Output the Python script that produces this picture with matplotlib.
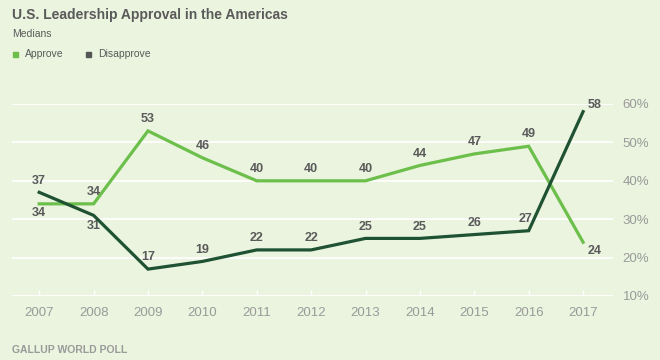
import matplotlib
matplotlib.use("Agg")
import matplotlib.pyplot as plt

years = [2007, 2008, 2009, 2010, 2011, 2012, 2013, 2014, 2015, 2016, 2017]
approve = [34, 34, 53, 46, 40, 40, 40, 44, 47, 49, 24]
disapprove = [37, 31, 17, 19, 22, 22, 25, 25, 26, 27, 58]
y_ticks = [10, 20, 30, 40, 50, 60]
y_tick_labels = ["10%", "20%", "30%", "40%", "50%", "60%"]

BG = "#eaf4de"
C_APP = "#6cbf4b"
C_DIS = "#1f5232"
TXT = "#5a5a5a"
GREY = "#9a9a9a"

plt.rcParams['font.family'] = ['Liberation Sans', 'DejaVu Sans']

fig = plt.figure(figsize=(6.6, 3.6), dpi=100, facecolor=BG)
W, H = 660, 360
ax = fig.add_axes([12 / W, 1 - 296 / H, (613 - 12) / W, (296 - 104) / H])
ax.set_facecolor(BG)
ax.set_xlim(2006.5, 2017.55)
ax.set_ylim(10, 60)

for t in y_ticks:
    ax.axhline(t, color="white", lw=1.3, zorder=0)
for s in ax.spines.values():
    s.set_visible(False)

ax.plot(years, approve, color=C_APP, lw=2.3, zorder=3, solid_joinstyle="miter")
ax.plot(years, disapprove, color=C_DIS, lw=2.3, zorder=4, solid_joinstyle="miter")

ax.set_xticks(years)
ax.set_xticklabels([str(y) for y in years])
ax.tick_params(axis="x", direction="in", length=4, width=1, color="white",
               labelcolor=GREY, labelsize=9.5, pad=8)
ax.yaxis.tick_right()
ax.set_yticks(y_ticks)
ax.set_yticklabels(y_tick_labels)
ax.tick_params(axis="y", length=0, labelcolor=GREY, labelsize=9.5, pad=7)

# value labels
for i, (x, a, d) in enumerate(zip(years, approve, disapprove)):
    if i == len(years) - 1:
        ax.annotate(str(a), (x, a), xytext=(8, -6), textcoords="offset points",
                    ha="center", va="center", fontsize=9, fontweight="bold", color=TXT)
        ax.annotate(str(d), (x, d), xytext=(8, 4.5), textcoords="offset points",
                    ha="center", va="center", fontsize=9, fontweight="bold", color=TXT,
                    annotation_clip=False)
        continue
    a_above = not (i == 0)
    ax.annotate(str(a), (x, a), xytext=(0, 8.5 if a_above else -6.5),
                textcoords="offset points", ha="center", va="center",
                fontsize=9, fontweight="bold", color=TXT)
    d_above = not (i == 1)
    dx = -2.5 if i == len(years) - 2 else 0
    ax.annotate(str(d), (x, d), xytext=(dx, 8.5 if d_above else -7.5),
                textcoords="offset points", ha="center", va="center",
                fontsize=9, fontweight="bold", color=TXT)

fig.text(12 / W, 1 - 15 / H, "U.S. Leadership Approval in the Americas",
         fontsize=10, fontweight="bold", color=TXT, va="center", ha="left")
fig.text(12 / W, 1 - 34 / H, "Medians", fontsize=7.5, color=TXT, va="center", ha="left")
fig.patches.append(plt.Rectangle((13 / W, 1 - 57 / H), 5 / W, 5 / H,
                                 transform=fig.transFigure, color=C_APP, figure=fig))
fig.text(25 / W, 1 - 54 / H, "Approve", fontsize=7.5, color=TXT, va="center", ha="left")
fig.patches.append(plt.Rectangle((86 / W, 1 - 57 / H), 5 / W, 5 / H,
                                 transform=fig.transFigure, color="#555555", figure=fig))
fig.text(98 / W, 1 - 54 / H, "Disapprove", fontsize=7.5, color=TXT, va="center", ha="left")
fig.text(12 / W, 1 - 350 / H, "GALLUP WORLD POLL", fontsize=7.5, fontweight="bold",
         color=GREY, va="center", ha="left")

fig.savefig("out.png", dpi=100, facecolor=BG)
